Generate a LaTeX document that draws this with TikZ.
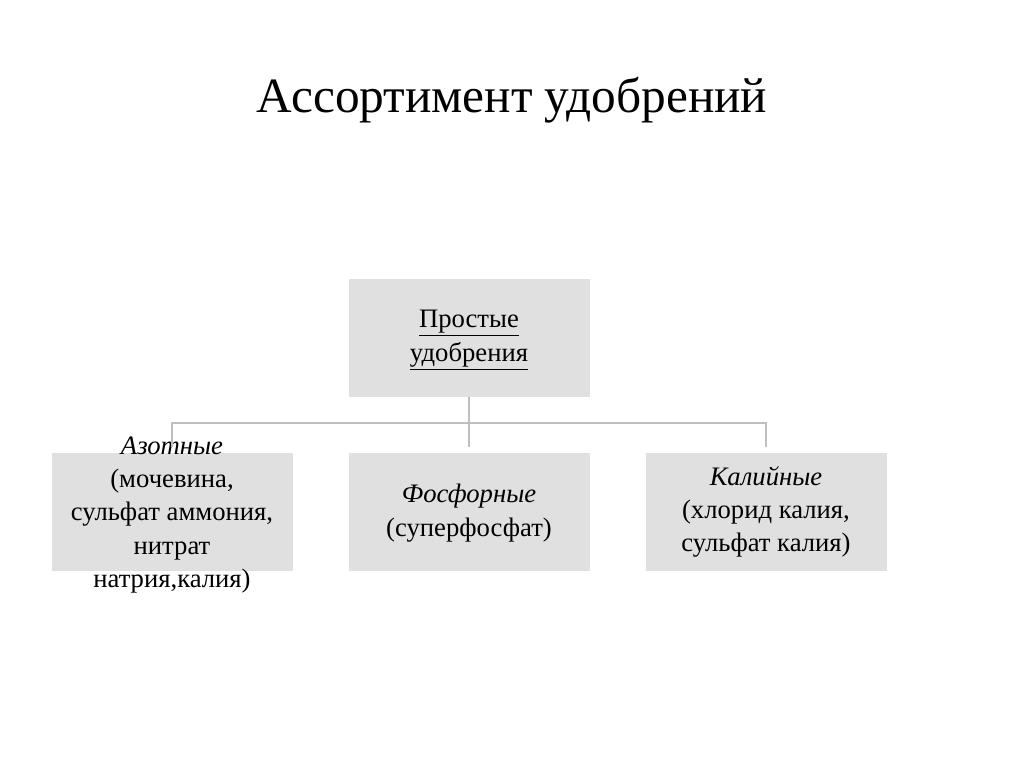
\documentclass[tikz,border=0pt]{standalone}
\usepackage{fontspec}
\setmainfont{Liberation Serif}
\begin{document}
\begin{tikzpicture}[x=0.75pt,y=-0.75pt,
  box/.style={draw=none,fill=black!12,minimum width=241*0.75pt,minimum height=118*0.75pt,inner sep=0pt},
  txt/.style={align=center,font=\fontsize{20}{25}\selectfont},
  conn/.style={draw=black!25,line width=2.2pt}]
\useasboundingbox (0,0) rectangle (1024,767);
\node[font=\fontsize{37}{44}\selectfont] (title) at (512,100) {Ассортимент удобрений};
\node[box] (top) at (469,338) {};
\node[txt] (toptxt) at (469,340) {\underline{Простые}\\\underline{удобрения}};
\node[box] (b1) at (172,512) {};
\node[box] (b2) at (469,512) {};
\node[box] (b3) at (766,512) {};
\node[txt] (t1) at (172,515) {\textit{Азотные}\\(мочевина,\\сульфат аммония,\\нитрат\\натрия,калия)};
\node[txt] (t2) at (469,513) {\textit{Фосфорные}\\(суперфосфат)};
\node[txt] (t3) at (766,512) {\textit{Калийные}\\(хлорид калия,\\сульфат калия)};
\coordinate (j) at (469,423);
\draw[conn] (top.south) -- (j);
\draw[conn] (j) -| ([yshift=4.5pt]b1.north);
\draw[conn] (j) -| ([yshift=4.5pt]b3.north);
\draw[conn] (j) -- ([yshift=4.5pt]b2.north);
\end{tikzpicture}
\end{document}
